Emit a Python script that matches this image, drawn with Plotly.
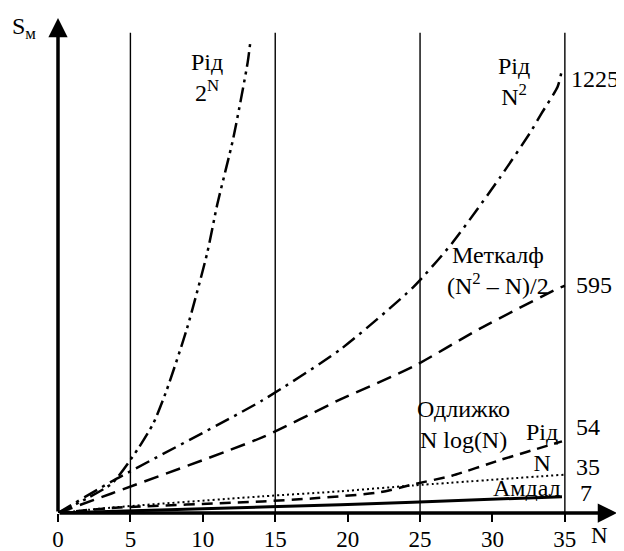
import plotly.graph_objects as go

# ---- data (schematic units) ----
x_2n = [0, 3.7, 5.5, 6.6, 7.5, 8.9, 10.3, 11.0, 12.1, 13.1, 13.3]
y_2n = [0, 81, 176, 249, 339, 509, 718, 853, 1035, 1246, 1308]

x_n2 = [0, 3.7, 14.1, 19.5, 24.5, 27.2, 30.5, 32.6, 33.4, 34.5, 34.8]
y_n2 = [0, 87, 311, 452, 623, 745, 926, 1051, 1105, 1178, 1225]

x_metcalfe = [0, 3.7, 14.1, 19.5, 24.5, 29.1, 34.5, 35.0]
y_metcalfe = [0, 54, 209, 314, 404, 509, 620, 628]

x_odlyzko = [0, 3.7, 14.1, 17.5, 22.2, 24.5, 27.2, 30.5, 32.3, 34.8]
y_odlyzko = [0, 14, 32, 40, 57, 79, 103, 146, 168, 198]

x_reed_n = [0, 3.7, 14.1, 19.5, 24.5, 35.0]
y_reed_n = [0, 15, 46, 60, 76, 106]

x_amdahl = [0, 10.0, 19.5, 24.5, 34.8]
y_amdahl = [0, 12, 23, 30, 45]

vlines_x = [5, 15, 25, 35]
tick_vals = [0, 5, 10, 15, 20, 25, 30, 35]
tick_text = ["0", "5", "10", "15", "20", "25", "30", "35"]

end_labels = ["1225", "595", "54", "35", "7"]
end_label_y = [1200, 631, 238, 127, 54]

FONT = "Liberation Serif, Times New Roman, serif"
FS = 24
TFS = 23
X_MAX = 38.6
Y_MAX = 1368
V_TOP = 1327

fig = go.Figure()

def add_curve(x, y, dash, width=2.5, shape="spline"):
    fig.add_trace(go.Scatter(
        x=x, y=y, mode="lines",
        line=dict(color="black", width=width, dash=dash, shape=shape, smoothing=0.6),
        showlegend=False, hoverinfo="skip"))

add_curve(x_2n, y_2n, "15px,5px,3px,5px,3px,5px")
add_curve(x_n2, y_n2, "15px,6px,3px,6px")
add_curve(x_metcalfe, y_metcalfe, "15px,8px")
add_curve(x_odlyzko, y_odlyzko, "11px,7px")
add_curve(x_reed_n, y_reed_n, "2px,3px", width=2)
add_curve(x_amdahl, y_amdahl, "solid", width=3)

# vertical reference lines
for vx in vlines_x:
    fig.add_shape(type="line", x0=vx, x1=vx, y0=0, y1=V_TOP, xref="x", yref="y",
                  line=dict(color="black", width=1.4))

# axes arrows
fig.add_annotation(x=X_MAX, y=0, ax=0, ay=0, xref="x", yref="y", axref="x", ayref="y",
                   text="", showarrow=True, arrowhead=2, arrowsize=1.1, arrowwidth=3.5,
                   arrowcolor="black")
fig.add_annotation(x=0, y=Y_MAX, ax=0, ay=0, xref="x", yref="y", axref="x", ayref="y",
                   text="", showarrow=True, arrowhead=2, arrowsize=1.1, arrowwidth=3.5,
                   arrowcolor="black")

def label(x, y, text, xanchor="center"):
    fig.add_annotation(x=x, y=y, xref="x", yref="y", text=text, showarrow=False,
                       xanchor=xanchor, yanchor="middle",
                       font=dict(family=FONT, size=FS, color="black"))

label(10.3, 1203, "Рід<br>2<sup>N</sup>")
label(31.5, 1193, "Рід<br>N<sup>2</sup>")
label(30.4, 670, "Меткалф<br>(N<sup>2</sup> – N)/2")
label(28.0, 245, "Одлижко<br>N log(N)")
label(33.4, 180, "Рід<br>N")
label(34.9, 68, "Амдал", xanchor="right")

end_label_x = [35.3, 35.6, 35.6, 35.6, 35.9]
for lx, ly, t in zip(end_label_x, end_label_y, end_labels):
    label(lx, ly, t, xanchor="left")

# axis titles (paper coordinates, outside the data range)
fig.add_annotation(x=0.968, y=-0.046, xref="paper", yref="paper", text="N", showarrow=False,
                   xanchor="center", yanchor="middle",
                   font=dict(family=FONT, size=TFS, color="black"))
fig.add_annotation(x=-0.036, y=0.98, xref="paper", yref="paper", text="S<sub>м</sub>",
                   showarrow=False, xanchor="right", yanchor="middle",
                   font=dict(family=FONT, size=FS, color="black"))

fig.update_layout(
    width=616, height=551,
    margin=dict(l=50, r=7, t=10, b=36),
    paper_bgcolor="white", plot_bgcolor="white",
    xaxis=dict(range=[0, X_MAX], showgrid=False, zeroline=False, showline=False,
               tickvals=tick_vals, ticktext=tick_text, ticks="outside", ticklen=8,
               tickwidth=1.5, tickcolor="black", ticklabelstandoff=-3,
               tickfont=dict(family=FONT, size=TFS, color="black")),
    yaxis=dict(range=[0, Y_MAX], showgrid=False, zeroline=False, showline=False,
               showticklabels=False, ticks=""),
)

fig.write_html("out.html")
